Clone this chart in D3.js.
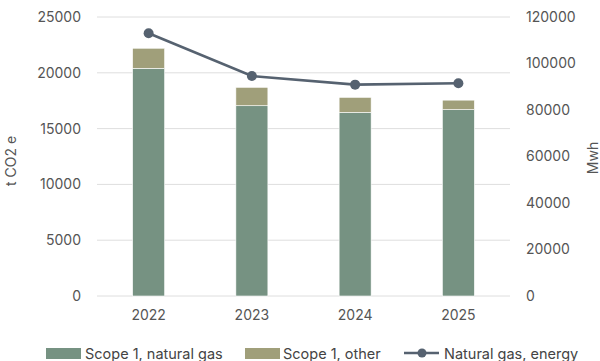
<!DOCTYPE html>
<html>
<head>
<meta charset="utf-8">
<script src="https://cdn.jsdelivr.net/npm/d3@7"></script>
<style>
  html, body { margin: 0; padding: 0; background: #fff; }
  svg { display: block; font-family: Inter, "Liberation Sans", Arial, sans-serif; }
</style>
</head>
<body>
<svg id="chart" width="600" height="361"></svg>
<script>
// Scope 1 emissions (t CO2 e) and natural gas energy use (MWh) by year
const years = ["2022", "2023", "2024", "2025"];
const scope1NaturalGas = [20400, 17050, 16450, 16700];
const scope1Other = [1800, 1650, 1350, 850];
const naturalGasEnergy = [113000, 94600, 90900, 91500];
const leftTicks = [0, 5000, 10000, 15000, 20000, 25000];
const rightTicks = [0, 20000, 40000, 60000, 80000, 100000, 120000];

const colors = { gas: "#769282", other: "#a09f7a", line: "#566270", grid: "#dedede", text: "#555" };

const svg = d3.select("#chart");
const plot = { left: 97, right: 510, top: 17, bottom: 296 };

const x = d3.scaleBand().domain(years).range([plot.left, plot.right]).paddingInner(0.69).paddingOuter(0.345);
const yL = d3.scaleLinear().domain([0, 25000]).range([plot.bottom, plot.top]);
const yR = d3.scaleLinear().domain([0, 120000]).range([plot.bottom, plot.top]);

// gridlines
svg.append("g").selectAll("line").data(leftTicks).join("line")
  .attr("x1", plot.left).attr("x2", plot.right)
  .attr("y1", d => yL(d)).attr("y2", d => yL(d))
  .attr("stroke", colors.grid).attr("stroke-width", 1);

// left axis
const leftAxis = svg.append("g").attr("transform", `translate(${plot.left},0)`)
  .call(d3.axisLeft(yL).tickValues(leftTicks).tickSize(0).tickPadding(16).tickFormat(d3.format("d")));
leftAxis.select(".domain").remove();

// right axis
const rightAxis = svg.append("g").attr("transform", `translate(${plot.right},0)`)
  .call(d3.axisRight(yR).tickValues(rightTicks).tickSize(0).tickPadding(16).tickFormat(d3.format("d")));
rightAxis.select(".domain").remove();

// bottom axis
const bottomAxis = svg.append("g").attr("transform", `translate(0,${plot.bottom})`)
  .call(d3.axisBottom(x).tickSize(0).tickPadding(14));
bottomAxis.select(".domain").remove();

svg.selectAll(".tick text").attr("fill", colors.text).style("font-size", "14px")
  .style("font-family", "Inter, 'Liberation Sans', Arial, sans-serif");

// stacked bars
const stackData = years.map((y, i) => ({ year: y, gas: scope1NaturalGas[i], other: scope1Other[i] }));
const series = d3.stack().keys(["gas", "other"])(stackData);
svg.append("g").selectAll("g").data(series).join("g")
  .attr("fill", d => colors[d.key])
  .selectAll("rect").data(d => d).join("rect")
  .attr("x", d => x(d.data.year))
  .attr("width", x.bandwidth())
  .attr("y", d => yL(d[1]))
  .attr("height", d => yL(d[0]) - yL(d[1]))
  .attr("stroke", "#ffffff").attr("stroke-width", 0.6);

// energy line
const cx = d => x(d) + x.bandwidth() / 2;
const line = d3.line().x((d, i) => cx(years[i])).y(d => yR(d));
svg.append("path").datum(naturalGasEnergy)
  .attr("d", line).attr("fill", "none")
  .attr("stroke", colors.line).attr("stroke-width", 2.6);
svg.append("g").selectAll("circle").data(naturalGasEnergy).join("circle")
  .attr("cx", (d, i) => cx(years[i])).attr("cy", d => yR(d)).attr("r", 5)
  .attr("fill", colors.line);

// axis titles
svg.append("text").attr("transform", "translate(10,161) rotate(-90)")
  .attr("text-anchor", "middle").attr("dominant-baseline", "central")
  .attr("fill", colors.text).style("font-size", "14px").text("t CO2 e");
svg.append("text").attr("transform", "translate(592,158) rotate(-90)")
  .attr("text-anchor", "middle").attr("dominant-baseline", "central")
  .attr("fill", colors.text).style("font-size", "14px").text("Mwh");

// legend
const legend = svg.append("g");
const ly = 353;
legend.append("rect").attr("x", 46).attr("y", 348).attr("width", 35).attr("height", 11).attr("fill", colors.gas);
legend.append("text").attr("x", 85).attr("y", ly).attr("dominant-baseline", "central")
  .attr("fill", "#444").style("font-size", "14.5px").text("Scope 1, natural gas");
legend.append("rect").attr("x", 245).attr("y", 348).attr("width", 35).attr("height", 11).attr("fill", colors.other);
legend.append("text").attr("x", 283).attr("y", ly).attr("dominant-baseline", "central")
  .attr("fill", "#444").style("font-size", "14.5px").text("Scope 1, other");
legend.append("line").attr("x1", 404).attr("x2", 439).attr("y1", ly).attr("y2", ly)
  .attr("stroke", colors.line).attr("stroke-width", 2.6);
legend.append("circle").attr("cx", 422).attr("cy", ly).attr("r", 4.5).attr("fill", colors.line);
legend.append("text").attr("x", 444).attr("y", ly).attr("dominant-baseline", "central")
  .attr("fill", "#444").style("font-size", "14.5px").text("Natural gas, energy");
</script>
</body>
</html>
